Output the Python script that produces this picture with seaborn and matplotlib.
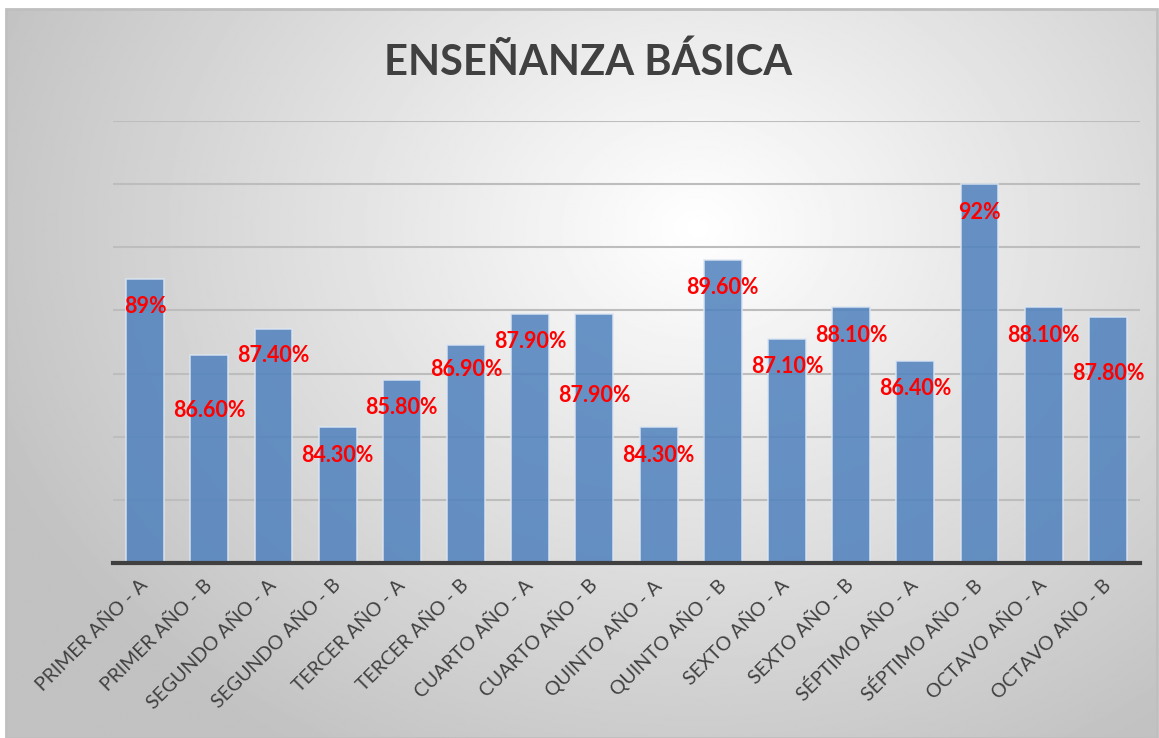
import numpy as np
import pandas as pd
import seaborn as sns
import matplotlib.pyplot as plt
from matplotlib.patches import Rectangle

# data
cursos = ["PRIMER AÑO - A", "PRIMER AÑO - B", "SEGUNDO AÑO - A", "SEGUNDO AÑO - B",
          "TERCER AÑO - A", "TERCER AÑO - B", "CUARTO AÑO - A", "CUARTO AÑO - B",
          "QUINTO AÑO - A", "QUINTO AÑO - B", "SEXTO AÑO - A", "SEXTO AÑO - B",
          "SÉPTIMO AÑO - A", "SÉPTIMO AÑO - B", "OCTAVO AÑO - A", "OCTAVO AÑO - B"]
porcentajes = [89.0, 86.6, 87.4, 84.3, 85.8, 86.9, 87.9, 87.9,
               84.3, 89.6, 87.1, 88.1, 86.4, 92.0, 88.1, 87.8]
etiquetas = ["89%", "86.60%", "87.40%", "84.30%", "85.80%", "86.90%", "87.90%", "87.90%",
             "84.30%", "89.60%", "87.10%", "88.10%", "86.40%", "92%", "88.10%", "87.80%"]

# how far (px) below the bar top each label sits, as in the original
label_drop = [28, 56, 26, 28, 28, 24, 28, 82, 28, 28, 28, 28, 28, 28, 28, 57]

df = pd.DataFrame({"curso": cursos, "pct": porcentajes})

sns.set_theme(style="white")
plt.rcParams['font.family'] = ['Lato', 'DejaVu Sans']

W, H = 1159, 738
fig = plt.figure(figsize=(W / 100, H / 100), dpi=100)
fig.patch.set_facecolor("white")

# radial grey gradient background like the Excel chart area
bg = fig.add_axes([6 / W, 0, (W - 8) / W, (H - 9) / H], zorder=0)
yy, xx = np.mgrid[0:400, 0:640]
cx, cy = 0.6 * 640, 0.3 * 400
r = np.sqrt((xx - cx) ** 2 + ((yy - cy) * 1.25) ** 2) / 420
r = np.clip(r, 0, 1)
shade = 1.0 - 0.24 * r
bg.imshow(shade, cmap="gray", vmin=0, vmax=1, aspect="auto", interpolation="bilinear")
bg.set_axis_off()
bg.add_patch(Rectangle((0, 0), 1, 1, transform=bg.transAxes, fill=False,
                       edgecolor="#BFBFBF", linewidth=2, clip_on=False))

ax = fig.add_axes([113 / W, 1 - 563 / H, (1140 - 113) / W, (563 - 121) / H], zorder=1)
ax.set_facecolor("none")

sns.barplot(data=df, x="curso", y="pct", color="#4F81BD", saturation=1, alpha=0.85,
            width=0.59, edgecolor="#DCE6F2", linewidth=1.2, ax=ax, zorder=3)

ax.set_ylim(80, 94)
ax.set_xlim(-0.5, len(cursos) - 0.5)
ax.set_yticks(np.arange(80, 95, 2))
ax.set_yticklabels([])
ax.tick_params(axis="y", length=0)
ax.grid(axis="y", color="#BDBDBD", linewidth=1.5, zorder=0)
ax.set_axisbelow(True)
for s in ["top", "right", "left"]:
    ax.spines[s].set_visible(False)
ax.spines["bottom"].set_color("#404040")
ax.spines["bottom"].set_linewidth(3)
ax.spines["bottom"].set_zorder(5)
ax.set_xlabel("")
ax.set_ylabel("")

ax.tick_params(axis="x", length=0, pad=14)
for lab in ax.get_xticklabels():
    lab.set_rotation(45)
    lab.set_ha("right")
    lab.set_va("center")
    lab.set_rotation_mode("anchor")
    lab.set_fontsize(14)
    lab.set_color("#404040")

for i, (v, t) in enumerate(zip(porcentajes, etiquetas)):
    ax.annotate(t, (i, v), xytext=(0, -label_drop[i] * 0.72), textcoords="offset points",
                ha="center", va="center", color="red", fontsize=15.5, fontweight="bold", zorder=6)

fig.text(0.507, 1 - 62 / H, "ENSEÑANZA BÁSICA", ha="center", va="center",
         fontsize=30, fontweight="bold", color="#404040")

fig.savefig("out.png", dpi=100)
